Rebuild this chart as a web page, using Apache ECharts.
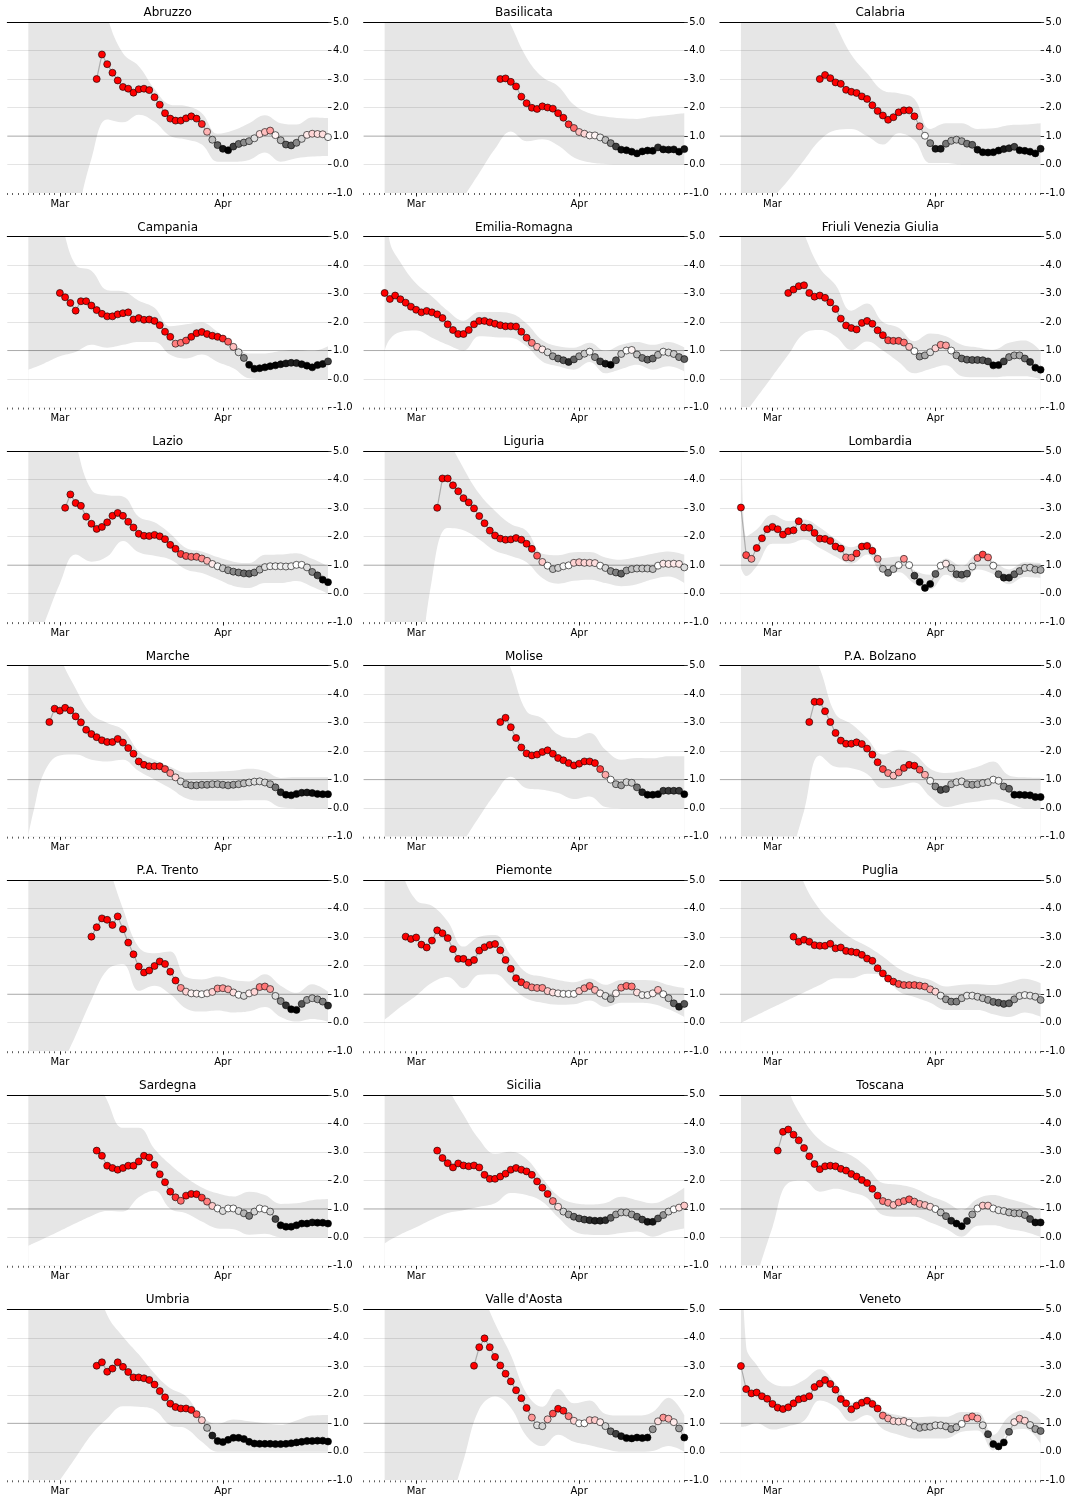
<!DOCTYPE html>
<html><head><meta charset="utf-8">
<script src="https://cdn.jsdelivr.net/npm/echarts@6/dist/echarts.min.js"></script>
<style>html,body{margin:0;padding:0;background:#fff}#chart{width:1072px;height:1504px}</style>
</head><body><div id="chart"></div>
<script>
// ---------- data ----------
const regionNames = ['Abruzzo','Basilicata','Calabria','Campania','Emilia-Romagna','Friuli Venezia Giulia','Lazio','Liguria','Lombardia','Marche','Molise','P.A. Bolzano','P.A. Trento','Piemonte','Puglia','Sardegna','Sicilia','Toscana','Umbria',"Valle d'Aosta",'Veneto'];
// first day of each Rt series, in days since 1 March 2020 (series run daily to 21 April = day 51)
const startDays = [7,16,9,0,-6,3,1,4,-6,-2,16,7,6,-2,4,7,4,1,7,11,-6];
// days (since 1 March) at which the credible-interval band was read
const bandDays = [-6,-5,-3,0,3,6,9,12,15,18,21,24,27,30,33,36,39,42,45,48,51];
const monthTickDays = [0, 31];
const monthTickLabels = ['Mar', 'Apr'];
const rtReference = 1.0;

const rtAbruzzo = [3.0,3.86,3.52,3.22,2.95,2.72,2.66,2.52,2.64,2.66,2.61,2.36,2.10,1.80,1.61,1.54,1.54,1.62,1.69,1.61,1.42,1.15,0.87,0.68,0.55,0.50,0.63,0.72,0.77,0.82,0.92,1.07,1.14,1.19,1.03,0.85,0.70,0.67,0.76,0.90,1.04,1.08,1.07,1.06,0.96];
const lowAbruzzo = [-8.5,-7.8,-6.3,-4.2,-2.0,0.2,1.58,1.48,1.75,1.5,1.0,0.88,0.7,0.1,0.1,0.16,0.42,0.1,0.22,0.28,0.3];
const highAbruzzo = [12,12,12,11,9.5,7.5,5.2,3.9,3.45,2.65,2.1,2.05,1.8,1.08,1.2,1.45,1.73,1.45,1.4,1.65,1.63];

const rtBasilicata = [3.0,3.02,2.9,2.74,2.38,2.15,1.99,1.95,2.04,2.0,1.96,1.8,1.64,1.41,1.28,1.14,1.08,1.02,1.02,0.95,0.86,0.75,0.63,0.52,0.5,0.45,0.39,0.46,0.49,0.48,0.6,0.53,0.52,0.53,0.45,0.54];
const lowBasilicata = [-5.5,-5.2,-4.6,-3.7,-2.9,-2.0,-1.15,-0.3,0.55,1.16,0.82,0.89,0.67,0.25,0.08,0.02,0,0,0,0,0];
const highBasilicata = [12,12,12,12,11,10,9,7.5,6.0,4.9,3.75,3.07,2.75,2.1,1.8,1.68,1.62,1.6,1.68,1.74,1.8];

const rtCalabria = [3.0,3.14,3.03,2.88,2.83,2.62,2.55,2.51,2.39,2.3,2.08,1.88,1.72,1.57,1.66,1.83,1.9,1.9,1.69,1.34,1.01,0.75,0.55,0.55,0.73,0.83,0.87,0.82,0.73,0.69,0.52,0.43,0.42,0.43,0.49,0.54,0.57,0.62,0.5,0.48,0.45,0.39,0.55];
const lowCalabria = [-2.6,-2.4,-1.9,-1.2,-0.55,0.15,0.85,1.2,1.25,1.0,0.7,1.1,0.85,0.05,0.05,0,0,0,0,0,0];
const highCalabria = [12,11.5,11,10,8.5,7.2,6.0,4.9,3.85,3.2,2.6,2.5,2.3,1.25,1.45,1.45,1.25,1.27,1.38,1.4,1.45];

const rtCampania = [3.02,2.87,2.67,2.4,2.73,2.73,2.58,2.42,2.29,2.2,2.2,2.27,2.31,2.34,2.09,2.14,2.08,2.09,2.04,1.89,1.66,1.48,1.24,1.27,1.35,1.48,1.61,1.65,1.58,1.52,1.48,1.42,1.31,1.13,0.94,0.74,0.5,0.36,0.38,0.41,0.45,0.48,0.52,0.55,0.57,0.56,0.52,0.47,0.41,0.49,0.53,0.62];
const lowCampania = [0.33,0.4,0.55,0.8,0.95,1.2,1.1,1.2,1.3,1.3,0.85,0.72,0.86,0.6,0.38,0.03,0,0,0,0,0];
const highCampania = [8,7.6,6.8,5.6,4.0,3.8,3.12,3.08,2.75,2.5,1.85,1.92,1.98,1.65,1.25,0.9,0.9,0.98,1.02,0.98,1.15];

const rtEmilia = [3.02,2.81,2.93,2.8,2.68,2.54,2.43,2.34,2.39,2.34,2.27,2.14,1.92,1.72,1.58,1.58,1.72,1.92,2.04,2.04,1.99,1.94,1.89,1.85,1.85,1.84,1.66,1.45,1.27,1.13,1.04,0.94,0.8,0.72,0.66,0.6,0.69,0.8,0.89,0.96,0.77,0.62,0.54,0.5,0.66,0.88,1.0,1.02,0.86,0.74,0.68,0.72,0.85,0.96,0.93,0.88,0.77,0.7];
const lowEmilia = [1.0,1.4,1.65,1.7,1.45,1.2,1.0,1.5,1.47,1.45,1.15,0.62,0.45,0.33,0.6,0.2,0.35,0.5,0.33,0.45,0.27];
const highEmilia = [6.5,4.8,4.1,3.35,2.9,2.4,2.05,2.35,2.35,2.3,1.95,1.36,1.15,1.1,1.27,0.98,1.2,1.3,1.2,1.3,1.11];

const rtFriuli = [3.02,3.14,3.26,3.29,3.02,2.89,2.93,2.85,2.69,2.46,2.12,1.88,1.79,1.74,1.97,2.04,1.94,1.71,1.54,1.36,1.34,1.34,1.28,1.13,0.98,0.79,0.83,0.94,1.08,1.2,1.18,1.0,0.83,0.72,0.68,0.67,0.67,0.66,0.62,0.48,0.49,0.62,0.77,0.83,0.83,0.72,0.6,0.4,0.33];
const lowFriuli = [-1.4,-1.15,-0.65,0.1,0.85,1.6,1.72,1.5,1.02,1.32,1.0,0.6,0.2,0.35,0.48,0.1,0.06,0.06,0.1,0.1,0.0];
const highFriuli = [12,11.5,10,8,6.5,5.1,3.9,3.3,2.4,2.65,2.0,1.8,1.33,1.6,1.5,1.2,1.11,1.03,1.27,1.35,0.98];

const rtLazio = [3.01,3.48,3.18,3.08,2.7,2.45,2.27,2.34,2.5,2.73,2.83,2.73,2.52,2.32,2.1,2.03,2.02,2.06,2.01,1.91,1.71,1.57,1.39,1.32,1.29,1.29,1.23,1.15,1.04,0.96,0.89,0.82,0.77,0.74,0.71,0.7,0.74,0.84,0.93,0.96,0.96,0.96,0.95,0.96,1.01,1.01,0.92,0.76,0.64,0.49,0.4];
const lowLazio = [-2.4,-1.95,-1.05,0.35,1.37,1.12,1.3,1.85,1.45,1.33,1.2,0.85,0.72,0.5,0.27,0.2,0.37,0.37,0.44,0.24,0.0];
const highLazio = [12,11,10,7.5,5.3,3.64,3.45,3.41,2.7,2.5,2.1,1.6,1.48,1.28,1.12,1.07,1.36,1.37,1.42,1.22,0.96];

const rtLiguria = [3.01,4.04,4.04,3.8,3.59,3.35,3.2,2.99,2.72,2.47,2.21,2.04,1.93,1.89,1.9,1.95,1.89,1.75,1.57,1.33,1.11,0.98,0.86,0.9,0.96,0.99,1.08,1.1,1.08,1.08,1.07,0.98,0.9,0.79,0.74,0.7,0.81,0.86,0.88,0.88,0.88,0.86,0.98,1.05,1.04,1.05,1.04,0.92];
const lowLiguria = [-13,-11.5,-8.5,-4,0.5,2.3,2.22,1.9,1.5,1.32,1.1,0.55,0.35,0.45,0.49,0.37,0.26,0.33,0.5,0.6,0.37];
const highLiguria = [12,12,11,9,7,5.5,4.4,3.5,2.9,2.44,2.2,1.4,1.35,1.45,1.46,1.27,1.19,1.28,1.4,1.48,1.37];

const rtLombardia = [3.02,1.35,1.22,1.6,1.94,2.26,2.34,2.26,2.07,2.19,2.22,2.54,2.32,2.31,2.13,1.93,1.92,1.85,1.65,1.58,1.27,1.26,1.41,1.65,1.67,1.5,1.22,0.87,0.73,0.86,1.0,1.22,1.0,0.63,0.41,0.2,0.34,0.69,0.98,1.05,0.89,0.68,0.66,0.7,0.95,1.25,1.37,1.27,0.98,0.68,0.56,0.56,0.68,0.79,0.9,0.91,0.84,0.83];
const lowLombardia = [0.9,0.62,0.96,1.75,1.75,1.9,1.6,1.3,1.05,1.37,0.75,0.75,0.35,0.15,0.66,0.39,0.85,0.69,0.33,0.58,0.55];
const highLombardia = [8,2.0,2.25,2.77,2.55,2.6,2.32,1.92,1.63,1.83,1.25,1.3,0.82,0.66,1.23,0.96,1.4,1.14,0.85,1.1,1.07];

const rtMarche = [3.02,3.49,3.42,3.52,3.43,3.22,3.01,2.75,2.6,2.49,2.38,2.32,2.32,2.43,2.3,2.11,1.91,1.64,1.52,1.47,1.47,1.47,1.37,1.23,1.08,0.94,0.84,0.8,0.8,0.82,0.82,0.84,0.84,0.82,0.8,0.82,0.84,0.87,0.9,0.93,0.94,0.9,0.84,0.73,0.56,0.47,0.45,0.5,0.54,0.55,0.53,0.5,0.49,0.49];
const lowMarche = [-0.95,-0.1,1.25,1.85,1.88,1.7,1.64,1.7,1.3,1.0,0.7,0.35,0.26,0.26,0.26,0.28,0.28,0.03,0,0,0];
const highMarche = [11,10,8,5.4,4.2,3.3,2.99,2.75,2.0,1.7,1.45,1.25,1.27,1.29,1.31,1.38,1.3,1.06,1.08,1.08,1.08];

const rtMolise = [3.02,3.17,2.84,2.46,2.13,1.92,1.85,1.88,1.97,2.03,1.91,1.76,1.68,1.58,1.5,1.56,1.64,1.64,1.58,1.37,1.17,1.0,0.84,0.8,0.91,0.89,0.73,0.56,0.47,0.47,0.49,0.61,0.61,0.61,0.61,0.49];
const lowMolise = [-5.2,-5.0,-4.4,-3.6,-2.8,-1.95,-1.15,-0.3,0.5,1.1,0.7,0.65,0.53,0.32,0.41,0.04,0,0,0,0,0];
const highMolise = [12,12,12,12,11,10,9,7.5,6.2,4.9,3.4,3.15,2.58,2.46,2.64,2.05,1.7,1.76,1.75,1.82,1.82];

const rtBolzano = [3.02,3.73,3.73,3.4,3.02,2.64,2.37,2.26,2.26,2.31,2.25,2.09,1.88,1.61,1.37,1.23,1.14,1.25,1.41,1.52,1.49,1.35,1.17,0.96,0.76,0.64,0.67,0.84,0.91,0.94,0.84,0.82,0.84,0.88,0.91,1.0,0.96,0.76,0.68,0.47,0.47,0.46,0.45,0.39,0.39];
const lowBolzano = [-7.8,-7.2,-5.9,-3.9,-2.0,-0.1,1.85,1.45,1.4,1.2,0.7,0.78,0.9,0.4,0.04,0.15,0.23,0.3,0.17,0,0];
const highBolzano = [12,12,11,9,7.5,6,4.9,3.3,2.95,2.45,1.88,2.05,1.9,1.38,1.23,1.3,1.45,1.64,1.15,1.08,1.06];

const rtTrento = [3.02,3.35,3.66,3.61,3.43,3.73,3.28,2.81,2.4,1.97,1.76,1.83,1.99,2.15,2.06,1.79,1.48,1.22,1.09,1.03,1.02,1.0,1.03,1.08,1.2,1.21,1.17,1.06,0.98,0.94,1.03,1.08,1.25,1.27,1.18,0.94,0.76,0.61,0.47,0.45,0.66,0.8,0.86,0.82,0.74,0.6];
const lowTrento = [-4.1,-3.7,-2.9,-1.65,-0.45,0.8,1.85,2.05,1.12,1.3,1.0,0.5,0.39,0.43,0.36,0.4,0.55,0.2,0.04,0.13,0.04];
const highTrento = [12,12,11,10,8.5,7,5.6,4.0,2.65,2.44,2.5,1.6,1.52,1.62,1.5,1.45,1.7,1.3,1.05,1.35,1.09];

const rtPiemonte = [3.02,2.94,2.99,2.74,2.64,2.88,3.24,3.14,2.97,2.58,2.24,2.24,2.11,2.2,2.53,2.65,2.73,2.76,2.54,2.2,1.89,1.56,1.42,1.32,1.24,1.22,1.22,1.11,1.06,1.03,1.01,1.01,1.01,1.11,1.21,1.29,1.15,1.03,0.94,0.83,1.03,1.23,1.29,1.27,1.06,0.97,0.97,1.03,1.15,1.0,0.86,0.68,0.56,0.66];
const lowPiemonte = [0.1,0.25,0.55,0.95,1.4,1.6,1.21,1.68,1.7,1.27,0.85,0.7,0.63,0.65,0.78,0.55,0.7,0.7,0.66,0.47,0.2];
const highPiemonte = [7,6.5,5.4,4.3,4.1,3.55,2.67,3.02,3.08,2.38,1.75,1.62,1.5,1.42,1.55,1.33,1.5,1.5,1.48,1.32,1.21];

const rtPuglia = [3.02,2.84,2.91,2.84,2.72,2.7,2.7,2.77,2.61,2.64,2.52,2.49,2.46,2.38,2.25,2.17,1.91,1.73,1.55,1.44,1.36,1.32,1.32,1.32,1.3,1.27,1.17,1.09,0.95,0.82,0.74,0.74,0.86,0.95,0.95,0.91,0.86,0.8,0.73,0.7,0.66,0.68,0.82,0.94,0.97,0.95,0.91,0.8];
const lowPuglia = [0,0.09,0.26,0.53,0.8,1.06,1.32,1.56,1.56,1.72,1.68,1.1,0.9,0.7,0.45,0.45,0.45,0.3,0.2,0.36,0.21];
const highPuglia = [12,11.5,10.5,8.5,6.5,4.9,3.97,3.4,2.97,2.68,2.32,1.9,1.65,1.5,1.27,1.33,1.35,1.32,1.42,1.54,1.38];

const rtSardegna = [3.04,2.86,2.51,2.43,2.37,2.43,2.51,2.51,2.66,2.86,2.8,2.54,2.21,1.93,1.6,1.4,1.28,1.46,1.52,1.51,1.39,1.25,1.1,1.01,0.92,1.01,1.01,0.92,0.84,0.75,0.9,1.01,0.98,0.9,0.64,0.42,0.37,0.37,0.42,0.48,0.48,0.52,0.51,0.51,0.48];
const lowSardegna = [-0.3,-0.21,-0.04,0.22,0.49,0.75,0.92,0.9,1.4,1.63,1.0,0.84,0.55,0.31,0.28,0.09,0.12,0,0,0,0];
const highSardegna = [12,12,11,9,7.5,6,4.8,3.84,3.84,3.1,2.55,2.1,1.75,1.54,1.43,1.6,1.48,1.17,1.19,1.3,1.34];

const rtSicilia = [3.04,2.78,2.6,2.45,2.59,2.52,2.49,2.52,2.45,2.19,2.05,2.05,2.13,2.23,2.37,2.43,2.37,2.31,2.19,1.96,1.74,1.52,1.27,1.07,0.9,0.8,0.72,0.66,0.62,0.6,0.58,0.58,0.6,0.68,0.8,0.87,0.87,0.8,0.72,0.62,0.54,0.54,0.66,0.78,0.9,0.98,1.04,1.11];
const lowSicilia = [-0.22,-0.1,0.1,0.35,0.62,0.85,0.95,1.07,1.19,1.55,1.48,1.25,0.7,0.21,0.09,0.08,0.15,0.2,0.02,0.2,0.31];
const highSicilia = [12,12,11,9,7,5.3,4.3,3.43,2.93,3.0,2.75,2.07,1.45,1.2,1.15,1.2,1.42,1.3,1.19,1.4,1.74];

const rtToscana = [3.04,3.7,3.78,3.6,3.4,3.13,2.84,2.57,2.39,2.49,2.51,2.49,2.4,2.34,2.22,2.13,2.01,1.9,1.7,1.46,1.27,1.21,1.13,1.22,1.27,1.33,1.25,1.17,1.13,1.07,0.99,0.87,0.74,0.58,0.48,0.39,0.57,0.8,1.01,1.11,1.11,1.01,0.95,0.92,0.87,0.84,0.84,0.78,0.64,0.52,0.52];
const lowToscana = [-3.05,-2.5,-1.35,0.35,1.9,1.98,1.6,1.7,1.57,1.38,0.78,0.72,0.72,0.52,0.3,0.02,0.4,0.42,0.29,0.19,0.01];
const highToscana = [12,12,10,7.5,5.2,4.1,3.42,3.07,2.87,2.45,1.9,1.84,1.72,1.45,1.24,0.96,1.35,1.48,1.34,1.19,0.95];

const rtUmbria = [3.02,3.14,2.81,2.92,3.14,2.98,2.8,2.61,2.61,2.58,2.52,2.36,2.13,1.91,1.69,1.57,1.52,1.52,1.47,1.32,1.11,0.84,0.57,0.38,0.34,0.42,0.49,0.49,0.45,0.35,0.29,0.28,0.28,0.28,0.27,0.27,0.28,0.3,0.33,0.35,0.38,0.38,0.39,0.39,0.36];
const lowUmbria = [-2.6,-2.3,-1.8,-1.0,-0.2,0.6,1.17,1.6,1.58,1.47,0.93,0.82,0.35,0.0,0,0,0,0,0,0,0];
const highUmbria = [12,12,11,9.5,8,6.5,4.8,4.04,3.42,2.75,2.23,1.95,1.25,0.98,1.13,1.07,1.0,0.95,1.1,1.27,1.29];

const rtValleAosta = [3.02,3.67,3.98,3.67,3.33,3.03,2.74,2.47,2.16,1.88,1.54,1.2,0.93,0.9,1.14,1.34,1.51,1.44,1.25,1.09,1.0,1.0,1.11,1.11,1.04,0.9,0.72,0.63,0.55,0.48,0.47,0.5,0.48,0.5,0.79,1.07,1.2,1.16,1.04,0.82,0.5];
const lowValleAosta = [-9.3,-8.7,-7.5,-5.7,-3.9,-2.1,-0.3,1.5,1.94,1.55,0.55,0.2,0.6,0.35,0.23,0.1,0,0,0.03,0.2,0.0];
const highValleAosta = [12,12,12,11.5,10,8.5,7,5.8,4.5,3.4,2.05,1.58,2.2,1.7,1.8,1.33,1.27,1.27,1.4,1.9,1.29];

const rtVeneto = [3.01,2.2,2.05,2.08,1.95,1.86,1.68,1.55,1.5,1.56,1.7,1.84,1.88,1.95,2.27,2.39,2.52,2.38,2.18,1.85,1.7,1.49,1.62,1.72,1.79,1.68,1.52,1.27,1.17,1.08,1.06,1.08,1.02,0.91,0.84,0.87,0.88,0.93,0.93,0.89,0.8,0.86,0.98,1.18,1.24,1.17,0.93,0.62,0.27,0.19,0.33,0.7,1.04,1.16,1.09,0.94,0.8,0.73];
const lowVeneto = [0.88,0.9,1.0,0.78,0.9,1.09,1.8,1.58,1.06,1.29,0.8,0.6,0.47,0.47,0.47,0.7,0.75,0.05,0.7,0.8,0.29];
const highVeneto = [9,3.69,3.05,2.4,2.3,2.52,2.9,2.4,1.72,1.93,1.45,1.28,1.21,1.24,1.23,1.4,1.4,0.6,1.25,1.46,1.11];

const rtValues = [rtAbruzzo,rtBasilicata,rtCalabria,rtCampania,rtEmilia,rtFriuli,rtLazio,rtLiguria,rtLombardia,rtMarche,rtMolise,rtBolzano,rtTrento,rtPiemonte,rtPuglia,rtSardegna,rtSicilia,rtToscana,rtUmbria,rtValleAosta,rtVeneto];
const bandLow = [lowAbruzzo,lowBasilicata,lowCalabria,lowCampania,lowEmilia,lowFriuli,lowLazio,lowLiguria,lowLombardia,lowMarche,lowMolise,lowBolzano,lowTrento,lowPiemonte,lowPuglia,lowSardegna,lowSicilia,lowToscana,lowUmbria,lowValleAosta,lowVeneto];
const bandHigh = [highAbruzzo,highBasilicata,highCalabria,highCampania,highEmilia,highFriuli,highLazio,highLiguria,highLombardia,highMarche,highMolise,highBolzano,highTrento,highPiemonte,highPuglia,highSardegna,highSicilia,highToscana,highUmbria,highValleAosta,highVeneto];

// ---------- chart ----------
const X_MIN = -10, X_MAX = 51, Y_MIN = -1, Y_MAX = 5;
const FONT = 'DejaVu Sans';

// black -> white -> red colormap (50 steps) on clip(Rt, 0.5, 1.5)
function rtColor(v) {
  const t = Math.min(Math.max(v, 0.5), 1.5) - 0.5;
  const idx = Math.min(49, Math.floor(t * 50));
  if (idx < 25) { const g = Math.round(255 * idx / 24); return 'rgb(' + g + ',' + g + ',' + g + ')'; }
  const c = Math.round(255 * (1 - (idx - 25) / 24));
  return 'rgb(255,' + c + ',' + c + ')';
}

const grids = [], xAxes = [], yAxes = [], series = [], graphics = [];
const PW = 320.7, PH = 171;
regionNames.forEach((name, k) => {
  const r = Math.floor(k / 3), c = k % 3;
  const left = 7.3 + 356.3 * c, top = 22 + 214.55 * r;
  grids.push({ left: left, top: top, width: PW, height: PH });
  const xi = xAxes.length;
  // daily minor ticks
  xAxes.push({ gridIndex: k, type: 'value', min: X_MIN, max: X_MAX, interval: 1, position: 'bottom',
    axisLine: { show: false, onZero: false }, axisTick: { show: true, length: 2, lineStyle: { color: '#333', width: 0.8 } },
    axisLabel: { show: false }, splitLine: { show: false } });
  // month ticks + labels
  xAxes.push({ gridIndex: k, type: 'value', min: X_MIN, max: X_MAX, position: 'bottom',
    axisLine: { show: false, onZero: false },
    axisTick: { show: true, customValues: monthTickDays, length: 3.5, lineStyle: { color: '#000', width: 0.8 } },
    axisLabel: { show: true, customValues: monthTickDays, margin: 6,
      formatter: v => { const i = monthTickDays.indexOf(v); return i >= 0 ? monthTickLabels[i] : ''; },
      fontFamily: FONT, fontSize: 10, color: '#000' },
    splitLine: { show: false } });
  // top spine
  xAxes.push({ gridIndex: k, type: 'value', min: X_MIN, max: X_MAX, position: 'top', z: 8,
    axisLine: { show: true, onZero: false, lineStyle: { color: '#000', width: 1 } },
    axisTick: { show: false }, axisLabel: { show: false }, splitLine: { show: false } });
  yAxes.push({ gridIndex: k, type: 'value', min: Y_MIN, max: Y_MAX, interval: 1, position: 'right', z: 3,
    axisLine: { show: false, onZero: false },
    axisTick: { show: true, length: 3.5, lineStyle: { color: '#000', width: 0.8 } },
    axisLabel: { margin: 5, formatter: v => v.toFixed(1), fontFamily: FONT, fontSize: 10, color: '#000' },
    splitLine: { show: true, showMinLine: false, showMaxLine: false, lineStyle: { color: 'rgba(0,0,0,0.1)', width: 1 } } });

  graphics.push({ type: 'text', x: left + PW / 2, y: top - 9, silent: true,
    style: { text: name, align: 'center', verticalAlign: 'middle', font: '12px "DejaVu Sans"', fill: '#000' } });

  const low = bandLow[k], high = bandHigh[k], rt = rtValues[k], s0 = startDays[k];
  // upper edge of band: grey fill down to the axis bottom
  series.push({ type: 'line', xAxisIndex: xi, yAxisIndex: k, z: 1, silent: true, smooth: 0.4,
    symbol: 'none', lineStyle: { width: 0, opacity: 0 },
    areaStyle: { color: '#e6e6e6', opacity: 1, origin: 'start' },
    data: bandDays.map((d, i) => [d, high[i]]) });
  // lower edge of band: white fill down to the axis bottom
  series.push({ type: 'line', xAxisIndex: xi, yAxisIndex: k, z: 2, silent: true, smooth: 0.4,
    symbol: 'none', lineStyle: { width: 0, opacity: 0 },
    areaStyle: { color: '#ffffff', opacity: 1, origin: 'start' },
    data: bandDays.map((d, i) => [d, low[i]]) });
  // Rt = 1 reference line
  series.push({ type: 'line', xAxisIndex: xi + 1, yAxisIndex: k, z: 4, silent: true,
    symbol: 'none', lineStyle: { color: 'rgba(0,0,0,0.25)', width: 1 },
    data: [[X_MIN, rtReference], [X_MAX, rtReference]] });
  const pts = rt.map((v, i) => [s0 + i, v]);
  series.push({ type: 'line', xAxisIndex: xi + 2, yAxisIndex: k, z: 5, silent: true,
    symbol: 'none', lineStyle: { color: 'rgba(0,0,0,0.25)', width: 1.2 }, data: pts });
  series.push({ type: 'scatter', xAxisIndex: xi, yAxisIndex: k, z: 6, silent: true, clip: false,
    symbolSize: 7, data: pts,
    itemStyle: { color: p => rtColor(p.value[1]), borderColor: '#000', borderWidth: 0.6, opacity: 1 } });
});

const chart = echarts.init(document.getElementById('chart'), null, { renderer: 'canvas', width: 1072, height: 1504 });
chart.setOption({
  animation: false,
  backgroundColor: '#ffffff',
  grid: grids, xAxis: xAxes, yAxis: yAxes, series: series, graphic: graphics
});
</script></body></html>
